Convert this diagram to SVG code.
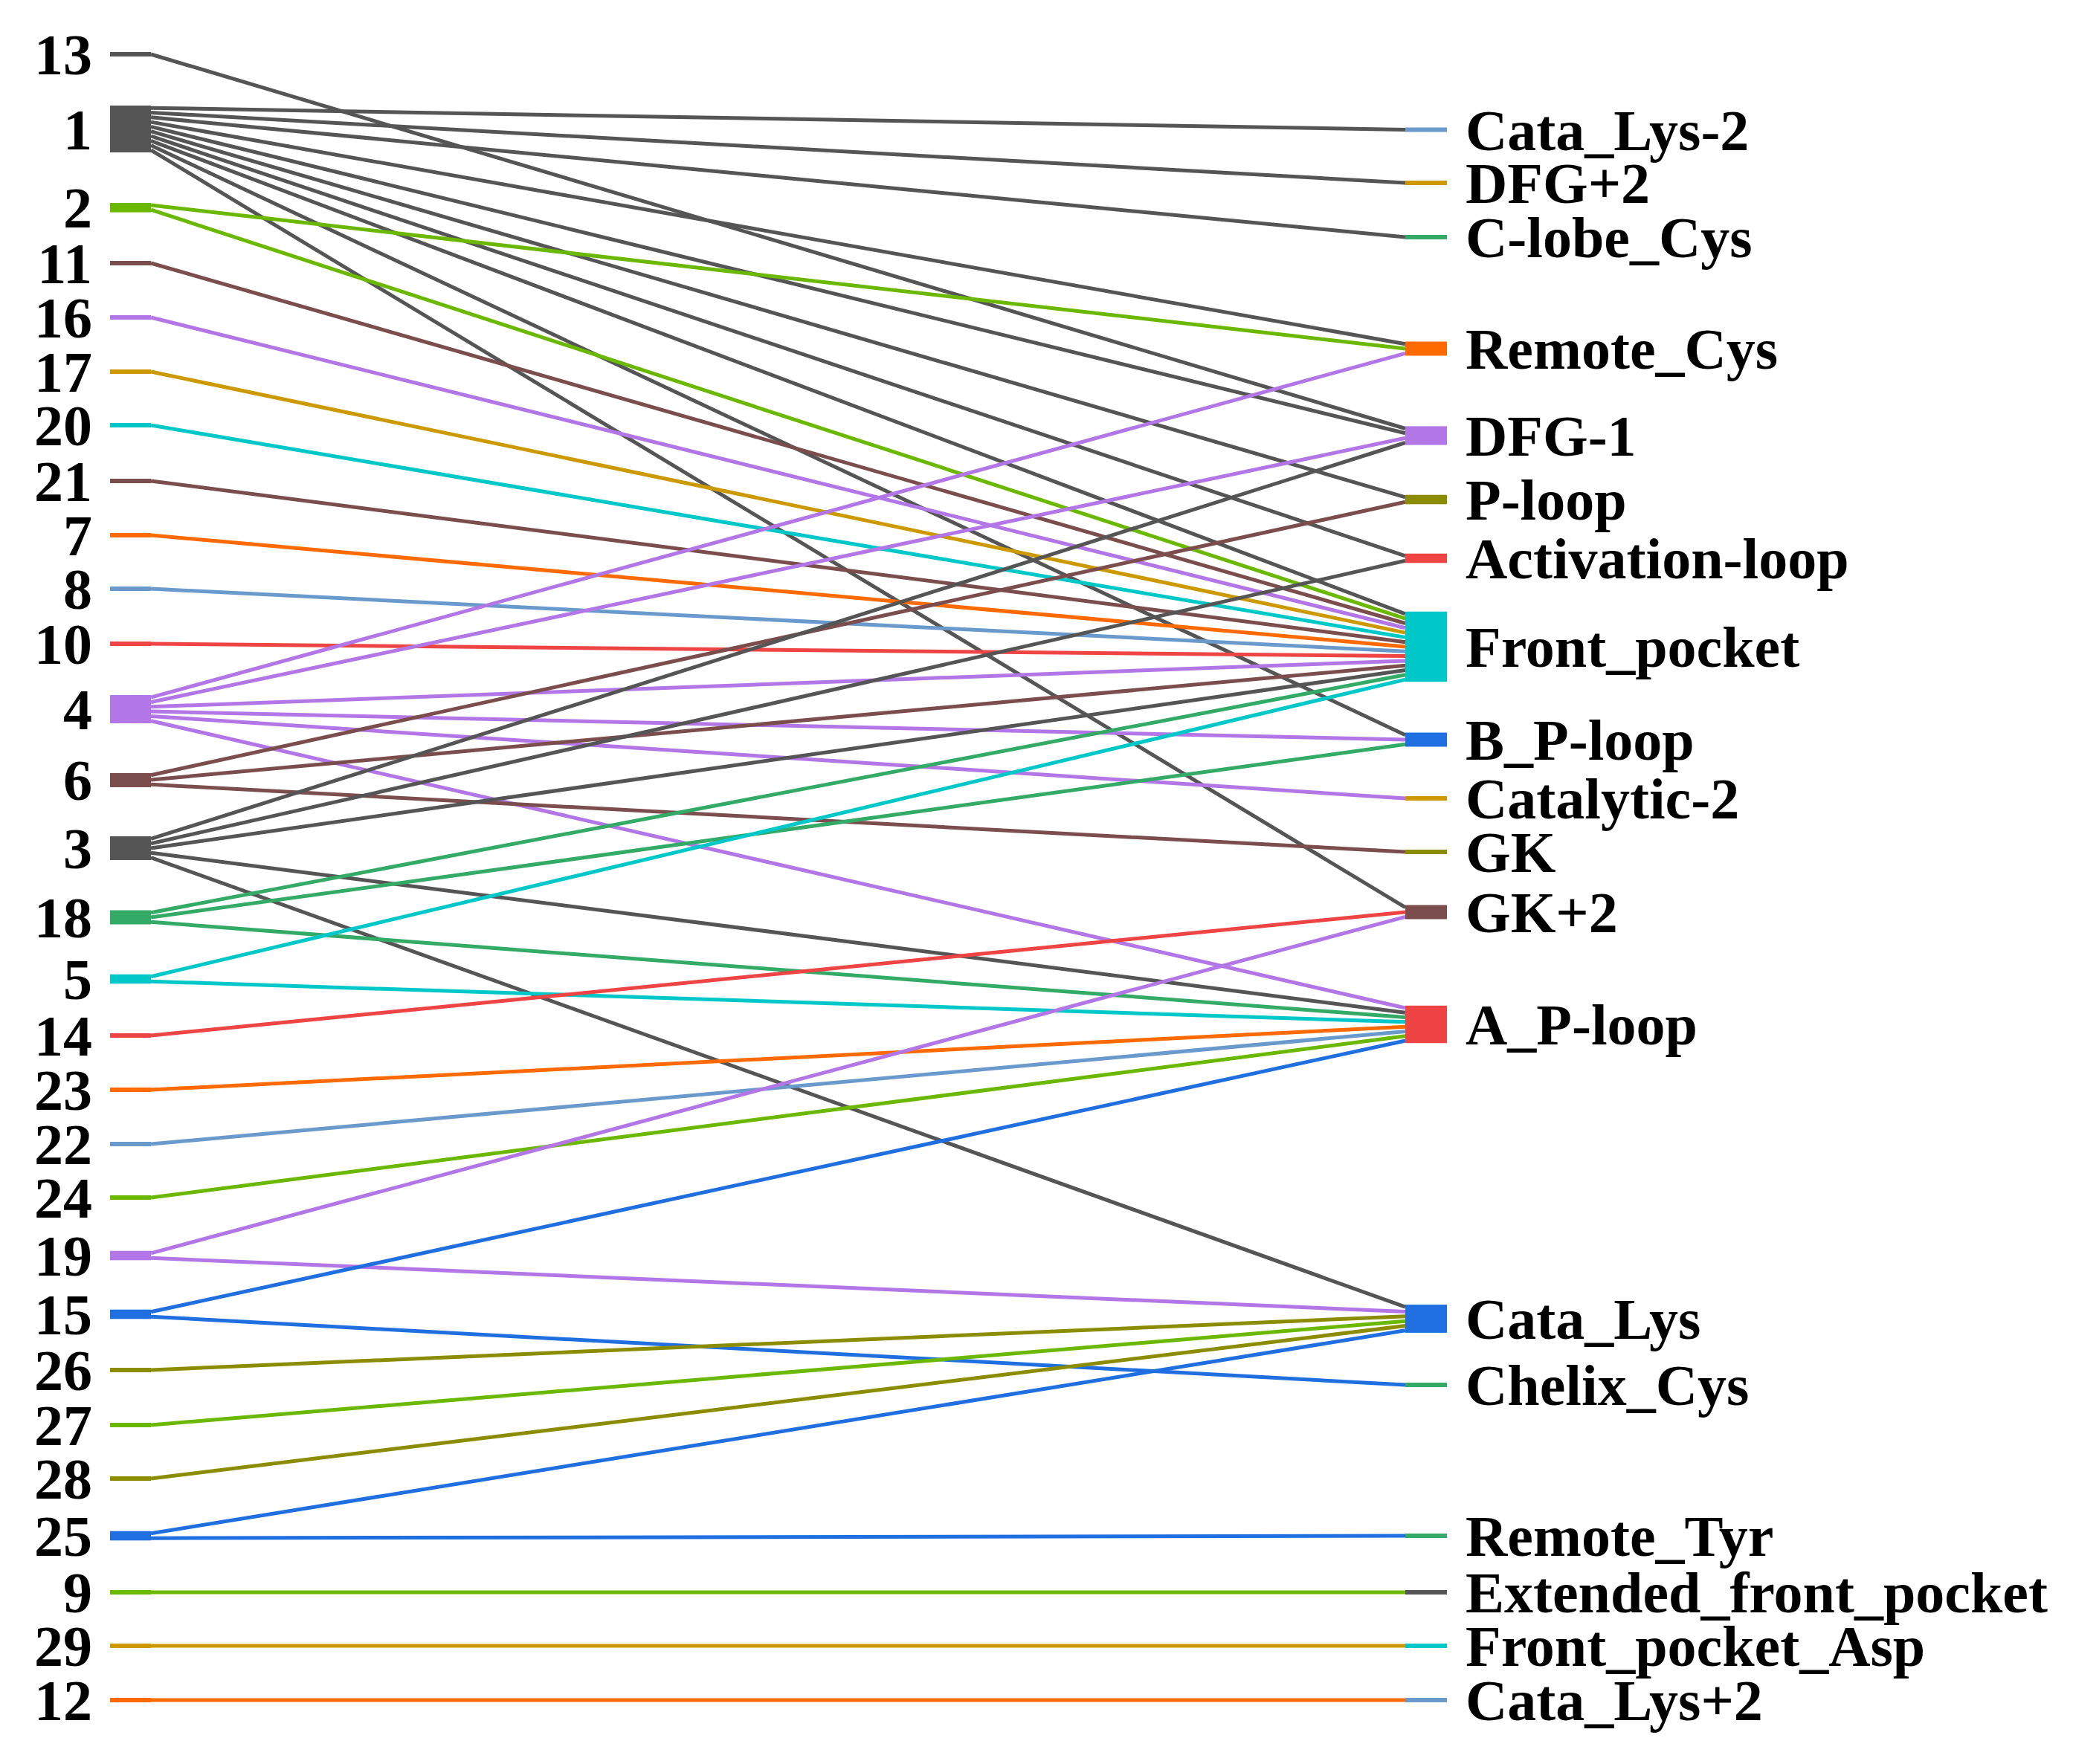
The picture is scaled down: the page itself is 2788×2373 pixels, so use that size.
<svg xmlns="http://www.w3.org/2000/svg" width="2788" height="2373" viewBox="0 0 2788 2373">
<style>
text{font-family:"Liberation Serif","Times New Roman",serif;font-weight:bold;font-size:78px;fill:#000}
.l{text-anchor:end}
line{stroke-width:5;fill:none}
.gy{stroke:#555555}.lm{stroke:#6ab800}.br{stroke:#7b4d4d}.pu{stroke:#b276e6}.go{stroke:#cc9900}.cy{stroke:#00c8c8}.or{stroke:#ff6a00}.st{stroke:#6a9acc}.rd{stroke:#ee4444}.gr{stroke:#33aa66}.bl{stroke:#1f6fe0}.ol{stroke:#8c8c00}
.fgy{fill:#555555}.flm{fill:#6ab800}.fbr{fill:#7b4d4d}.fpu{fill:#b276e6}.fgo{fill:#cc9900}.fcy{fill:#00c8c8}.for{fill:#ff6a00}.fst{fill:#6a9acc}.frd{fill:#ee4444}.fgr{fill:#33aa66}.fbl{fill:#1f6fe0}.fol{fill:#8c8c00}
</style>
<rect width="2788" height="2373" fill="#fff"/>
<g id="connectors">
<line class="gy" x1="203" y1="73" x2="1890" y2="576.5"/>
<line class="gy" x1="203" y1="145.2" x2="1890" y2="174.5"/>
<line class="gy" x1="203" y1="151.5" x2="1890" y2="246"/>
<line class="gy" x1="203" y1="157.8" x2="1890" y2="319"/>
<line class="gy" x1="203" y1="164.1" x2="1890" y2="462.7"/>
<line class="gy" x1="203" y1="170.4" x2="1890" y2="582.8"/>
<line class="gy" x1="203" y1="176.7" x2="1890" y2="668.8"/>
<line class="gy" x1="203" y1="183" x2="1890" y2="747.8"/>
<line class="gy" x1="203" y1="189.3" x2="1890" y2="825.9"/>
<line class="gy" x1="203" y1="195.6" x2="1890" y2="988.7"/>
<line class="gy" x1="203" y1="201.9" x2="1890" y2="1220.7"/>
<line class="lm" x1="203" y1="275.9" x2="1890" y2="469"/>
<line class="lm" x1="203" y1="282.2" x2="1890" y2="832.2"/>
<line class="br" x1="203" y1="354" x2="1890" y2="838.5"/>
<line class="pu" x1="203" y1="427" x2="1890" y2="844.8"/>
<line class="go" x1="203" y1="500" x2="1890" y2="851.1"/>
<line class="cy" x1="203" y1="572" x2="1890" y2="857.4"/>
<line class="br" x1="203" y1="647" x2="1890" y2="863.7"/>
<line class="or" x1="203" y1="720" x2="1890" y2="870"/>
<line class="st" x1="203" y1="792" x2="1890" y2="876.3"/>
<line class="rd" x1="203" y1="866" x2="1890" y2="882.6"/>
<line class="pu" x1="203" y1="938.2" x2="1890" y2="475.3"/>
<line class="pu" x1="203" y1="944.5" x2="1890" y2="589.2"/>
<line class="pu" x1="203" y1="950.8" x2="1890" y2="888.9"/>
<line class="pu" x1="203" y1="957.1" x2="1890" y2="995"/>
<line class="pu" x1="203" y1="963.4" x2="1890" y2="1074"/>
<line class="pu" x1="203" y1="969.7" x2="1890" y2="1356"/>
<line class="br" x1="203" y1="1042.7" x2="1890" y2="675.2"/>
<line class="br" x1="203" y1="1049" x2="1890" y2="895.2"/>
<line class="br" x1="203" y1="1055.3" x2="1890" y2="1146"/>
<line class="gy" x1="203" y1="1128.4" x2="1890" y2="595.5"/>
<line class="gy" x1="203" y1="1134.7" x2="1890" y2="754.2"/>
<line class="gy" x1="203" y1="1141" x2="1890" y2="901.5"/>
<line class="gy" x1="203" y1="1147.3" x2="1890" y2="1362.2"/>
<line class="gy" x1="203" y1="1153.6" x2="1890" y2="1758.2"/>
<line class="gr" x1="203" y1="1227.7" x2="1890" y2="907.8"/>
<line class="gr" x1="203" y1="1234" x2="1890" y2="1001.3"/>
<line class="gr" x1="203" y1="1240.3" x2="1890" y2="1368.5"/>
<line class="cy" x1="203" y1="1313.8" x2="1890" y2="914.1"/>
<line class="cy" x1="203" y1="1320.2" x2="1890" y2="1374.8"/>
<line class="rd" x1="203" y1="1393" x2="1890" y2="1227"/>
<line class="or" x1="203" y1="1466" x2="1890" y2="1381.2"/>
<line class="st" x1="203" y1="1539" x2="1890" y2="1387.5"/>
<line class="lm" x1="203" y1="1611" x2="1890" y2="1393.8"/>
<line class="pu" x1="203" y1="1685.8" x2="1890" y2="1233.3"/>
<line class="pu" x1="203" y1="1692.2" x2="1890" y2="1764.5"/>
<line class="bl" x1="203" y1="1764.8" x2="1890" y2="1400"/>
<line class="bl" x1="203" y1="1771.2" x2="1890" y2="1863"/>
<line class="ol" x1="203" y1="1843" x2="1890" y2="1770.8"/>
<line class="lm" x1="203" y1="1917" x2="1890" y2="1777.2"/>
<line class="ol" x1="203" y1="1989" x2="1890" y2="1783.5"/>
<line class="bl" x1="203" y1="2062.8" x2="1890" y2="1789.8"/>
<line class="bl" x1="203" y1="2069.2" x2="1890" y2="2066"/>
<line class="lm" x1="203" y1="2142" x2="1890" y2="2142"/>
<line class="go" x1="203" y1="2214" x2="1890" y2="2214"/>
<line class="or" x1="203" y1="2287" x2="1890" y2="2287"/>
</g>
<g id="n13"><rect class="fgy" x="148" y="70" width="55" height="6"/><text class="l" x="124" y="100">13</text></g>
<g id="n1"><rect class="fgy" x="148" y="142" width="55" height="63"/><text class="l" x="124" y="201">1</text></g>
<g id="n2"><rect class="flm" x="148" y="273" width="55" height="12.6"/><text class="l" x="124" y="306">2</text></g>
<g id="n11"><rect class="fbr" x="148" y="351" width="55" height="6"/><text class="l" x="124" y="381">11</text></g>
<g id="n16"><rect class="fpu" x="148" y="424" width="55" height="6"/><text class="l" x="124" y="454">16</text></g>
<g id="n17"><rect class="fgo" x="148" y="497" width="55" height="6"/><text class="l" x="124" y="527">17</text></g>
<g id="n20"><rect class="fcy" x="148" y="569" width="55" height="6"/><text class="l" x="124" y="599">20</text></g>
<g id="n21"><rect class="fbr" x="148" y="644" width="55" height="6"/><text class="l" x="124" y="674">21</text></g>
<g id="n7"><rect class="for" x="148" y="717" width="55" height="6"/><text class="l" x="124" y="747">7</text></g>
<g id="n8"><rect class="fst" x="148" y="789" width="55" height="6"/><text class="l" x="124" y="819">8</text></g>
<g id="n10"><rect class="frd" x="148" y="863" width="55" height="6"/><text class="l" x="124" y="893">10</text></g>
<g id="n4"><rect class="fpu" x="148" y="935" width="55" height="38"/><text class="l" x="124" y="981">4</text></g>
<g id="n6"><rect class="fbr" x="148" y="1040" width="55" height="19"/><text class="l" x="124" y="1076">6</text></g>
<g id="n3"><rect class="fgy" x="148" y="1125" width="55" height="32"/><text class="l" x="124" y="1168">3</text></g>
<g id="n18"><rect class="fgr" x="148" y="1224.5" width="55" height="19"/><text class="l" x="124" y="1261">18</text></g>
<g id="n5"><rect class="fcy" x="148" y="1310.7" width="55" height="12.6"/><text class="l" x="124" y="1344">5</text></g>
<g id="n14"><rect class="frd" x="148" y="1390" width="55" height="6"/><text class="l" x="124" y="1420">14</text></g>
<g id="n23"><rect class="for" x="148" y="1463" width="55" height="6"/><text class="l" x="124" y="1493">23</text></g>
<g id="n22"><rect class="fst" x="148" y="1536" width="55" height="6"/><text class="l" x="124" y="1566">22</text></g>
<g id="n24"><rect class="flm" x="148" y="1608" width="55" height="6"/><text class="l" x="124" y="1638">24</text></g>
<g id="n19"><rect class="fpu" x="148" y="1682.7" width="55" height="12.6"/><text class="l" x="124" y="1716">19</text></g>
<g id="n15"><rect class="fbl" x="148" y="1761.7" width="55" height="12.6"/><text class="l" x="124" y="1795">15</text></g>
<g id="n26"><rect class="fol" x="148" y="1840" width="55" height="6"/><text class="l" x="124" y="1870">26</text></g>
<g id="n27"><rect class="flm" x="148" y="1914" width="55" height="6"/><text class="l" x="124" y="1944">27</text></g>
<g id="n28"><rect class="fol" x="148" y="1986" width="55" height="6"/><text class="l" x="124" y="2016">28</text></g>
<g id="n25"><rect class="fbl" x="148" y="2059.7" width="55" height="12.6"/><text class="l" x="124" y="2093">25</text></g>
<g id="n9"><rect class="flm" x="148" y="2139" width="55" height="6"/><text class="l" x="124" y="2169">9</text></g>
<g id="n29"><rect class="fgo" x="148" y="2211" width="55" height="6"/><text class="l" x="124" y="2241">29</text></g>
<g id="n12"><rect class="for" x="148" y="2284" width="55" height="6"/><text class="l" x="124" y="2314">12</text></g>
<g id="t_cata_lys_m2"><rect class="fst" x="1890" y="171.5" width="56" height="6"/><text x="1971" y="202">Cata_Lys-2</text></g>
<g id="t_dfg_p2"><rect class="fgo" x="1890" y="243" width="56" height="6"/><text x="1971" y="273">DFG+2</text></g>
<g id="t_clobe_cys"><rect class="fgr" x="1890" y="316" width="56" height="6"/><text x="1971" y="346">C-lobe_Cys</text></g>
<g id="t_remote_cys"><rect class="for" x="1890" y="459.5" width="56" height="19"/><text x="1971" y="496">Remote_Cys</text></g>
<g id="t_dfg_m1"><rect class="fpu" x="1890" y="573.4" width="56" height="25.2"/><text x="1971" y="613">DFG-1</text></g>
<g id="t_ploop"><rect class="fol" x="1890" y="665.7" width="56" height="12.6"/><text x="1971" y="699">P-loop</text></g>
<g id="t_actloop"><rect class="frd" x="1890" y="744.7" width="56" height="12.6"/><text x="1971" y="778">Activation-loop</text></g>
<g id="t_front"><rect class="fcy" x="1890" y="822.7" width="56" height="94.5"/><text x="1971" y="897">Front_pocket</text></g>
<g id="t_bploop"><rect class="fbl" x="1890" y="985.5" width="56" height="19"/><text x="1971" y="1022">B_P-loop</text></g>
<g id="t_cat2"><rect class="fgo" x="1890" y="1071" width="56" height="6"/><text x="1971" y="1101">Catalytic-2</text></g>
<g id="t_gk"><rect class="fol" x="1890" y="1143" width="56" height="6"/><text x="1971" y="1173">GK</text></g>
<g id="t_gkp2"><rect class="fbr" x="1890" y="1217.5" width="56" height="19"/><text x="1971" y="1254">GK+2</text></g>
<g id="t_aploop"><rect class="frd" x="1890" y="1352.8" width="56" height="50.4"/><text x="1971" y="1405">A_P-loop</text></g>
<g id="t_catalys"><rect class="fbl" x="1890" y="1755.1" width="56" height="37.8"/><text x="1971" y="1801">Cata_Lys</text></g>
<g id="t_chelix"><rect class="fgr" x="1890" y="1860" width="56" height="6"/><text x="1971" y="1890">Chelix_Cys</text></g>
<g id="t_remote_tyr"><rect class="fgr" x="1890" y="2063" width="56" height="6"/><text x="1971" y="2093">Remote_Tyr</text></g>
<g id="t_ext"><rect class="fgy" x="1890" y="2139" width="56" height="6"/><text x="1971" y="2169">Extended_front_pocket</text></g>
<g id="t_fpa"><rect class="fcy" x="1890" y="2211" width="56" height="6"/><text x="1971" y="2241">Front_pocket_Asp</text></g>
<g id="t_clp2"><rect class="fst" x="1890" y="2284" width="56" height="6"/><text x="1971" y="2314">Cata_Lys+2</text></g>
</svg>
